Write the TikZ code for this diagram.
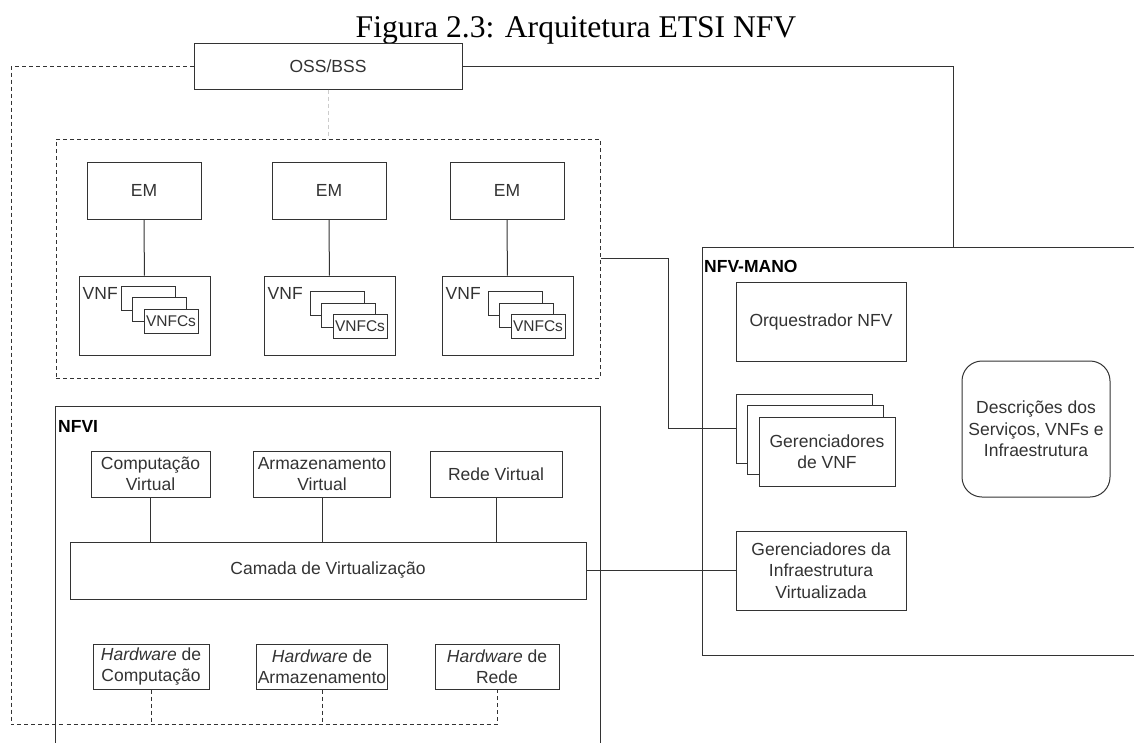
\documentclass[tikz,border=0pt]{standalone}
\usepackage{fontspec}
\setmainfont{Liberation Serif}
\setsansfont{Liberation Sans}
\usetikzlibrary{calc,positioning}
\definecolor{linha}{HTML}{333333}
\definecolor{texto}{HTML}{333333}
\newcommand{\fonte}{\sffamily\fontsize{17.5}{21.3}\selectfont}
\tikzset{
  caixa/.style={draw=linha, line width=1pt, fill=white, inner sep=0pt, align=center, text=texto, font=\fonte},
  liga/.style={draw=linha, line width=1pt},
  tracejado/.style={draw=linha, line width=1pt, dash pattern=on 4pt off 3pt},
  rotulo/.style={inner sep=0pt, font=\sffamily\bfseries\fontsize{17.5}{21}\selectfont},
}
% pilha de tres caixas: centro da caixa da frente, tamanho, nome, texto
\def\pilha(#1)[#2]#3#4{%
  \node[caixa, #2] (#3c) at ($(#1)+(-22.6,-22.6)$) {};
  \node[caixa, #2] (#3b) at ($(#1)+(-11.3,-11.3)$) {};
  \node[caixa, #2] (#3a) at (#1) {#4};
}

\begin{document}
\begin{tikzpicture}[x=1pt, y=-1pt]
		\useasboundingbox (0,0) rectangle (1134,742);
		%%%%% TITULO %%%%%
		\node[anchor=base, inner sep=0pt, font=\fontsize{31.6}{36}\selectfont] (titulo) at (576,37) {Figura 2.3: Arquitetura ETSI NFV};
		
		\node[caixa, minimum width=268, minimum height=46] (oss) at (328,66) {OSS/BSS};
		
		%%%%% VNFs %%%%%
		\node[tracejado, minimum width=544, minimum height=239] (grp) at (328,258.5) {};
		
		\node[caixa, minimum width=114, minimum height=57] (em1) at (144,190.5) {EM};
		\node[caixa, minimum width=114, minimum height=57] (em2) at (329,190.5) {EM};
		\node[caixa, minimum width=114, minimum height=57] (em3) at (507,190.5) {EM};
		
		\node[caixa, minimum width=131, minimum height=79] (vnf1) at (144.5,315.5) {};
		\node[caixa, minimum width=131, minimum height=79] (vnf2) at (329.5,315.5) {};
		\node[caixa, minimum width=131, minimum height=79] (vnf3) at (507.5,315.5) {};
		\foreach \v in {1,2,3}
			\node[anchor=west, inner sep=0pt, font=\fonte, text=texto] at ($(vnf\v.north west)+(4,18)$) {VNF};
		
		\pilha(171,321)[minimum width=54, minimum height=24, font=\sffamily\fontsize{15.5}{17}\selectfont]{vnfcA}{VNFCs}
		\pilha(360,326.5)[minimum width=54, minimum height=24, font=\sffamily\fontsize{15.5}{17}\selectfont]{vnfcB}{VNFCs}
		\pilha(538,326.5)[minimum width=54, minimum height=24, font=\sffamily\fontsize{15.5}{17}\selectfont]{vnfcC}{VNFCs}
		
		\draw[liga] (em1) -- (vnf1);
		\draw[liga] (em2) -- (vnf2);
		\draw[liga] (em3) -- (vnf3);
		
		%%%%% NFV-MANO %%%%%
		\draw[liga] (1134,247) -- (702,247) -- (702,655) -- (1134,655);
		\node[rotulo, anchor=west] (lmano) at (704,266) {NFV-MANO};
		
		\node[caixa, minimum width=170, minimum height=79] (orq) at (821,321.5) {Orquestrador NFV};
		\pilha(827,451.5)[minimum width=136, minimum height=69]{gvnf}{Gerenciadores\\de VNF}
		\node[caixa, rounded corners=20pt, minimum width=148, minimum height=136] (desc) at (1036,429) {Descrições dos\\Serviços, VNFs e\\Infraestrutura};
		\node[caixa, minimum width=170, minimum height=79] (giv) at (821,570.5) {Gerenciadores da\\Infraestrutura\\Virtualizada};
		
		%%%%% NFVI %%%%%
		\draw[liga] (55,745) -- (55,406) -- (600,406) -- (600,745);
		\node[rotulo, anchor=west] (lnfvi) at (58,426) {NFVI};
		
		\node[caixa, minimum width=119, minimum height=46] (cv) at (150.5,474) {Computação\\Virtual};
		\node[caixa, minimum width=137, minimum height=46] (av) at (322,474) {Armazenamento\\Virtual};
		\node[caixa, minimum width=132, minimum height=46] (rv) at (496,474) {Rede Virtual};
		\node[caixa, minimum width=516, minimum height=57] (cam) at (328,570.5) {Camada de Virtualização};
		
		\node[caixa, minimum width=116, minimum height=45] (hc) at (151,666.5) {\textit{Hardware} de\\Computação};
		\node[caixa, minimum width=131, minimum height=45] (ha) at (322,666.5) {\textit{Hardware} de\\Armazenamento};
		\node[caixa, minimum width=124, minimum height=45] (hr) at (497,666.5) {\textit{Hardware} de\\Rede};
		
		\draw[liga] (cv) -- (cv |- cam.north);
		\draw[liga] (av) -- (av |- cam.north);
		\draw[liga] (rv) -- (rv |- cam.north);
		
		%%%%% LIGACOES %%%%%
		\coordinate (base) at (0,724);
		\coordinate (manotopo) at (953,247);
		\draw[tracejado] (oss.west) -| (11,724) -- (hr.south |- base) -- (hr.south);
		\draw[tracejado] (hc.south) -- (hc.south |- base);
		\draw[tracejado] (ha.south) -- (ha.south |- base);
		\draw[draw=black!20, line width=1pt, dash pattern=on 4pt off 3pt] (oss.south) -- (grp.north);
		\draw[liga] (oss.east) -| (manotopo);
		\draw[liga] (grp.east) -- ++(68,0) |- (gvnfc.west);
		\draw[liga] (cam.east) -- (giv.west);
\end{tikzpicture}
\end{document}
